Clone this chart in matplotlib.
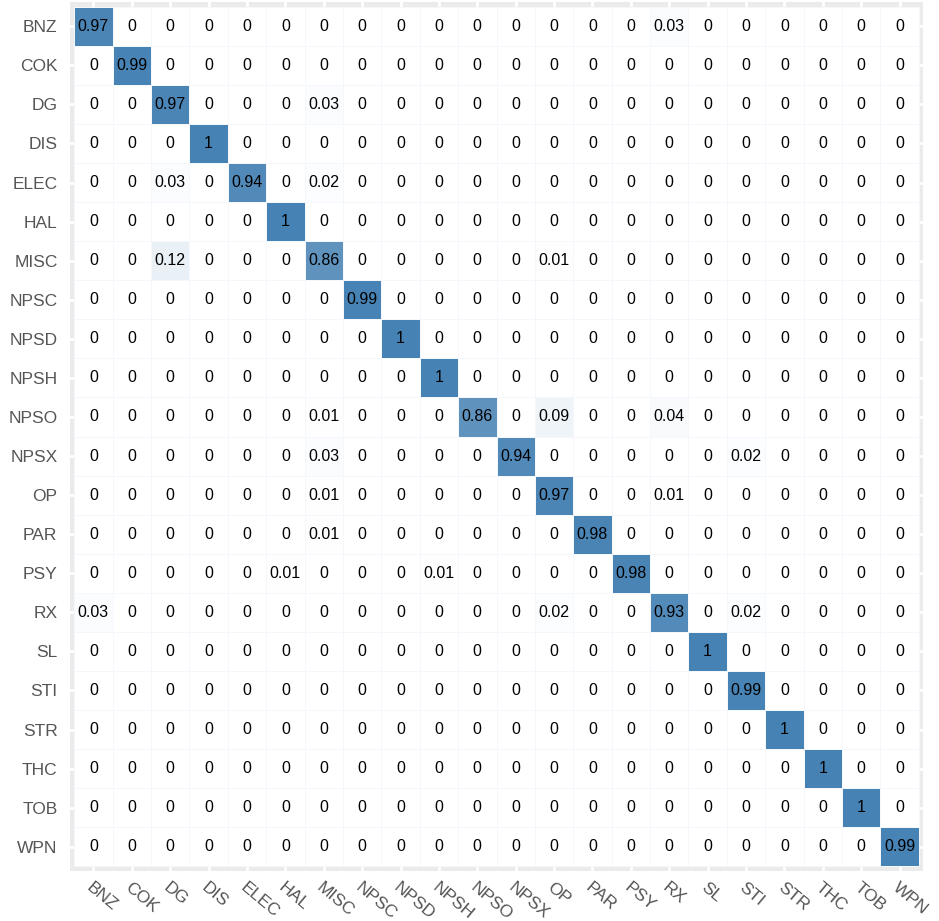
import numpy as np
import matplotlib
matplotlib.use("Agg")
import matplotlib.pyplot as plt
from matplotlib.colors import LinearSegmentedColormap

labels = ["BNZ", "COK", "DG", "DIS", "ELEC", "HAL", "MISC", "NPSC", "NPSD", "NPSH",
          "NPSO", "NPSX", "OP", "PAR", "PSY", "RX", "SL", "STI", "STR", "THC", "TOB", "WPN"]

# non-zero entries per row: {column label: value}
row_BNZ = {"BNZ": 0.97, "RX": 0.03}
row_COK = {"COK": 0.99}
row_DG = {"DG": 0.97, "MISC": 0.03}
row_DIS = {"DIS": 1}
row_ELEC = {"DG": 0.03, "ELEC": 0.94, "MISC": 0.02}
row_HAL = {"HAL": 1}
row_MISC = {"DG": 0.12, "MISC": 0.86, "OP": 0.01}
row_NPSC = {"NPSC": 0.99}
row_NPSD = {"NPSD": 1}
row_NPSH = {"NPSH": 1}
row_NPSO = {"MISC": 0.01, "NPSO": 0.86, "OP": 0.09, "RX": 0.04}
row_NPSX = {"MISC": 0.03, "NPSX": 0.94, "STI": 0.02}
row_OP = {"MISC": 0.01, "OP": 0.97, "RX": 0.01}
row_PAR = {"MISC": 0.01, "PAR": 0.98}
row_PSY = {"HAL": 0.01, "NPSH": 0.01, "PSY": 0.98}
row_RX = {"BNZ": 0.03, "OP": 0.02, "RX": 0.93, "STI": 0.02}
row_SL = {"SL": 1}
row_STI = {"STI": 0.99}
row_STR = {"STR": 1}
row_THC = {"THC": 1}
row_TOB = {"TOB": 1}
row_WPN = {"WPN": 0.99}

rows = [row_BNZ, row_COK, row_DG, row_DIS, row_ELEC, row_HAL, row_MISC, row_NPSC,
        row_NPSD, row_NPSH, row_NPSO, row_NPSX, row_OP, row_PAR, row_PSY, row_RX,
        row_SL, row_STI, row_STR, row_THC, row_TOB, row_WPN]

n = len(labels)
M = np.zeros((n, n))
for i, r in enumerate(rows):
    for k, v in r.items():
        M[i, labels.index(k)] = v

plt.rcParams["font.family"] = ["Liberation Sans", "DejaVu Sans"]

fig = plt.figure(figsize=(9.39, 9.21), dpi=100)
W, H = 939, 921
ax = fig.add_axes([70 / W, 1 - 871 / H, (923 - 70) / W, (871 - 2) / H])
ax.set_facecolor("#ebebeb")

cmap = LinearSegmentedColormap.from_list("wb", ["#ffffff", "#4682b4"])
x = np.arange(n + 1) - 0.5
ax.pcolormesh(x, x, M, cmap=cmap, vmin=0, vmax=1, edgecolors="#f4f7fb",
              linewidth=0.6, zorder=2)

for i in range(n):
    for j in range(n):
        v = M[i, j]
        ax.text(j, i, f"{v:g}", ha="center", va="center", fontsize=11.5,
                color="black", zorder=3)

mx = 0.11
my = 0.12
ax.set_xlim(-0.5 - mx, n - 0.5 + mx)
ax.set_ylim(n - 0.5 + my, -0.5 - my)

ax.set_xticks(np.arange(n))
ax.set_yticks(np.arange(n))
ax.set_xticklabels(labels, rotation=-40, ha="left", rotation_mode="anchor",
                   fontsize=12.5, color="#555555")
ax.set_yticklabels(labels, fontsize=12.5, color="#555555")
ax.tick_params(length=0, pad=9)
ax.tick_params(axis="x", pad=6)
for t in ax.get_xticklabels():
    t.set_va("top")
ax.grid(True, color="white", linewidth=2, zorder=1)
ax.set_axisbelow(True)
for s in ax.spines.values():
    s.set_visible(False)

fig.savefig("out.png", dpi=100, facecolor="white")
